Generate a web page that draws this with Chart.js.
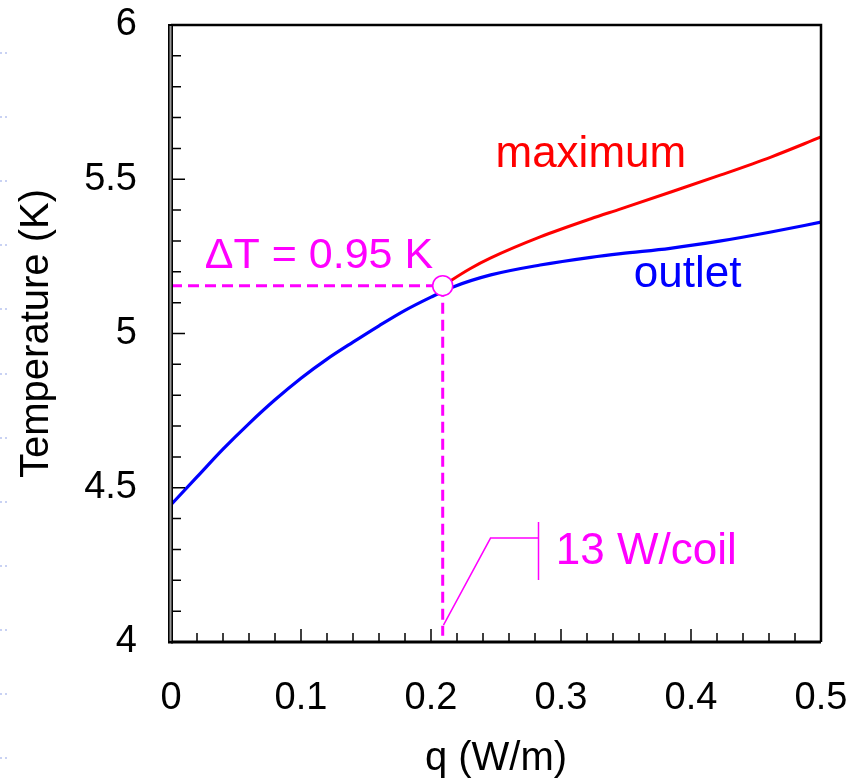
<!DOCTYPE html>
<html>
<head>
<meta charset="utf-8">
<script src="https://cdn.jsdelivr.net/npm/chart.js@4.4.1/dist/chart.umd.min.js"></script>
<style>
  html, body { margin: 0; padding: 0; background: #fff; }
  canvas { display: block; }
</style>
</head>
<body>
<canvas id="chart" width="861" height="779"></canvas>
<script>
// outlet temperature vs heat load
const outletQ = [0, 0.02, 0.04, 0.06, 0.08, 0.10, 0.12, 0.14, 0.16, 0.18, 0.20, 0.217, 0.246, 0.284, 0.323, 0.346, 0.384, 0.423, 0.4615, 0.50]
const outletT = [4.445, 4.535, 4.625, 4.708, 4.785, 4.855, 4.917, 4.972, 5.025, 5.075, 5.118, 5.151, 5.19, 5.222, 5.247, 5.259, 5.276, 5.30, 5.329, 5.361]

// maximum temperature (splits from outlet at the design point)
const maxQ = [0.209, 0.23, 0.246, 0.284, 0.323, 0.346, 0.384, 0.423, 0.4615, 0.50]
const maxT = [5.155, 5.21, 5.245, 5.313, 5.372, 5.404, 5.458, 5.514, 5.572, 5.637]

const xTicks = [0, 0.1, 0.2, 0.3, 0.4, 0.5]
const yTicks = [4, 4.5, 5, 5.5, 6]

// design point: 13 W/coil
const designQ = 0.209
const designT = 5.155

const MAGENTA = '#ff00ff'
const FONT = '"Liberation Sans", Arial, sans-serif'

const toPoints = (xs, ys) => xs.map((x, i) => ({ x, y: ys[i] }))

// keep the plot box where the picture has it
const noScalePadding = scale => {
    scale.paddingTop = 0
    scale.paddingBottom = 0
    scale.paddingLeft = 0
    scale.paddingRight = 0
}

const framePlugin = {
    id: 'frame',
    beforeDraw(chart) {
        // faint slide dots down the left edge
        const { ctx } = chart
        ctx.save()
        ctx.fillStyle = '#c9d2f3'
        for (let yy = 52; yy < 770; yy += 64.1) {
            ctx.fillRect(0, Math.round(yy), 2, 2)
            ctx.fillRect(5, Math.round(yy), 2, 2)
        }
        ctx.restore()
    },
    afterDatasetsDraw(chart) {
        const { ctx, chartArea: a, scales: { x, y } } = chart
        ctx.save()
        ctx.strokeStyle = '#000'
        ctx.lineWidth = 1.5
        ctx.beginPath()
        for (let i = 1; i < 25; i++) {
            const px = x.getPixelForValue(i * 0.02)
            const len = i % 5 === 0 ? 13 : 9
            ctx.moveTo(px, a.bottom)
            ctx.lineTo(px, a.bottom - len)
        }
        for (let i = 1; i < 20; i++) {
            const py = y.getPixelForValue(4 + i * 0.1)
            const len = i % 5 === 0 ? 14 : 10
            ctx.moveTo(a.left, py)
            ctx.lineTo(a.left + len, py)
        }
        ctx.stroke()

        // box
        ctx.lineWidth = 2.5
        ctx.beginPath()
        ctx.moveTo(a.left, a.top)
        ctx.lineTo(a.right, a.top)
        ctx.lineTo(a.right, a.bottom)
        ctx.stroke()
        ctx.lineWidth = 3
        ctx.beginPath()
        ctx.moveTo(a.left, a.bottom)
        ctx.lineTo(a.right, a.bottom)
        ctx.stroke()
        ctx.fillStyle = '#000'
        ctx.fillRect(a.left - 3, a.top - 1, 5, a.bottom - a.top + 2.5)
        ctx.fillStyle = '#9a9a9a'
        ctx.fillRect(a.left - 1.5, a.top + 1, 2, a.bottom - a.top - 2)
        ctx.restore()
    },
    afterDraw(chart) {
        const { ctx, scales: { x, y } } = chart
        const px = v => x.getPixelForValue(v)
        const py = v => y.getPixelForValue(v)
        ctx.save()
        ctx.textAlign = 'left'
        ctx.textBaseline = 'alphabetic'

        ctx.font = `44px ${FONT}`
        ctx.fillStyle = '#ff0000'
        ctx.fillText('maximum', px(0.2496), py(5.54))
        ctx.fillStyle = '#0000ff'
        ctx.fillText('outlet', px(0.356), py(5.151))

        ctx.fillStyle = MAGENTA
        ctx.font = `43px ${FONT}`
        ctx.fillText('\u0394T = 0.95 K', px(0.026), py(5.212))
        ctx.font = `44px ${FONT}`
        ctx.fillText('13 W/coil', px(0.296), py(4.253))

        // leader to the design point
        ctx.strokeStyle = MAGENTA
        ctx.lineWidth = 1.5
        ctx.beginPath()
        ctx.moveTo(px(0.2096), py(4.055))
        ctx.lineTo(px(0.2458), py(4.337))
        ctx.lineTo(px(0.2827), py(4.337))
        ctx.moveTo(px(0.2827), py(4.389))
        ctx.lineTo(px(0.2827), py(4.201))
        ctx.stroke()
        ctx.restore()
    }
}

new Chart(document.getElementById('chart'), {
    type: 'line',
    data: {
        datasets: [
            {
                label: 'design point',
                data: [{ x: designQ, y: designT }],
                showLine: false,
                pointRadius: 10,
                pointBackgroundColor: '#fff',
                pointBorderColor: MAGENTA,
                pointBorderWidth: 1.5,
                order: 0
            },
            {
                label: 'maximum',
                data: toPoints(maxQ, maxT),
                borderColor: '#ff0000',
                borderWidth: 3,
                pointRadius: 0,
                cubicInterpolationMode: 'monotone',
                order: 1
            },
            {
                label: 'outlet',
                data: toPoints(outletQ, outletT),
                borderColor: '#0000ff',
                borderWidth: 3.2,
                pointRadius: 0,
                cubicInterpolationMode: 'monotone',
                order: 2
            },
            {
                label: 'dT guide',
                data: [{ x: 0, y: designT }, { x: designQ, y: designT }],
                borderColor: MAGENTA,
                borderWidth: 3,
                borderDash: [11, 6],
                pointRadius: 0,
                order: 3
            },
            {
                label: 'q guide',
                data: [{ x: designQ, y: designT }, { x: designQ, y: 4.02 }],
                borderColor: MAGENTA,
                borderWidth: 3,
                borderDash: [11, 6],
                pointRadius: 0,
                order: 3
            }
        ]
    },
    options: {
        responsive: false,
        animation: false,
        events: [],
        layout: {
            autoPadding: false,
            padding: { top: 25, right: 40, left: 0, bottom: 0 }
        },
        plugins: {
            legend: { display: false },
            tooltip: { enabled: false }
        },
        scales: {
            x: {
                type: 'linear',
                min: 0,
                max: 0.5,
                afterBuildTicks(scale) {
                    scale.ticks = xTicks.map(value => ({ value }))
                },
                afterFit(scale) {
                    scale.height = 137
                    noScalePadding(scale)
                },
                grid: { display: false, drawTicks: false },
                border: { display: false },
                ticks: {
                    color: '#000',
                    padding: 34,
                    maxRotation: 0,
                    callback: value => String(value),
                    font: { family: FONT, size: 38 }
                },
                title: {
                    display: true,
                    text: 'q (W/m)',
                    color: '#000',
                    font: { family: FONT, size: 40, lineHeight: 1 },
                    padding: { top: 2, bottom: 0 }
                }
            },
            y: {
                type: 'linear',
                min: 4,
                max: 6,
                afterBuildTicks(scale) {
                    scale.ticks = yTicks.map(value => ({ value }))
                },
                afterFit(scale) {
                    scale.width = 171
                    noScalePadding(scale)
                },
                grid: { display: false, drawTicks: false },
                border: { display: false },
                ticks: {
                    color: '#000',
                    padding: 34,
                    callback: value => String(value),
                    font: { family: FONT, size: 38 }
                },
                title: {
                    display: true,
                    text: 'Temperature (K)',
                    color: '#000',
                    font: { family: FONT, size: 40, lineHeight: 1.2 },
                    padding: { top: 13, bottom: 0 }
                }
            }
        }
    },
    plugins: [framePlugin]
})
</script>
</body>
</html>
